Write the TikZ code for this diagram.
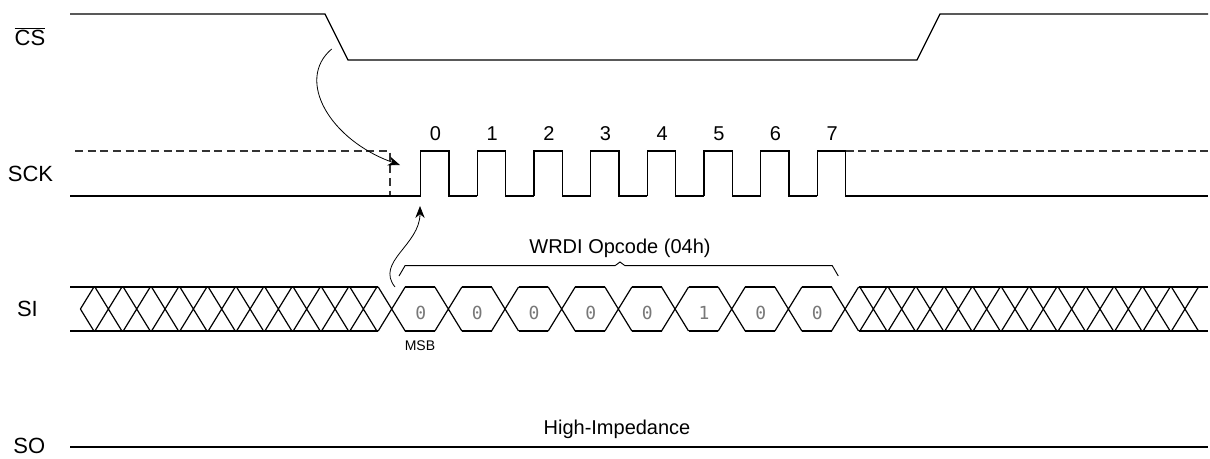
\documentclass[tikz,border=0pt]{standalone}
\usepackage{fontspec}
\setmainfont{Liberation Sans}
\newfontfamily\bitfont{DejaVu Sans Mono}
\usetikzlibrary{arrows.meta}
\definecolor{bitgray}{RGB}{120,120,120}

\begin{document}
\begin{tikzpicture}[x=0.75pt, y=-0.75pt, line width=0.9pt,
        sig/.style={font=\fontsize{15}{18}\selectfont, anchor=base, inner sep=0pt},
        signame/.style={font=\fontsize{16.5}{19}\selectfont, anchor=base, inner sep=0pt},
        bit/.style={font=\bitfont\fontsize{13.5}{16}\selectfont, text=bitgray, anchor=base, inner sep=0pt},
        dontcare/.style={dash pattern=on 6pt off 3.5pt, draw=black!80},
        arr/.style={-{Stealth[length=9pt,width=7pt]}, line width=0.6pt}]
    \useasboundingbox (0,0) rectangle (1210,458);

    % Signal names
    \node[signame] (lcs) at (30,45) {$\overline{\mbox{CS}}$};
    \node[signame] (lsck) at (30.5,181.7) {SCK};
    \node[signame] (lsi) at (27.4,316.7) {SI};
    \node[signame] (lso) at (29.3,453.5) {SO};

    % CS
    \draw (70,14) -- (325,14) -- (348,60) -- (917,60) -- (940,14) -- (1208,14);

    % SCK
    \draw[dontcare] (75,151) -- (390,151) -- (390,196);
    \draw (70,196) -- (420.7,196);
    \foreach \k in {0,...,7} {
        \draw ({420.7+56.67*\k},196) |- ++(28.33,-45) |- ++(28.33,45);
        \node[sig] (p\k) at ({435.5+56.67*\k},140) {\k};
    }
    \draw (845.7,196) -- (1208,196);
    \draw[dontcare] (845.7,151) -- (1208,151);

    % SI, don't care before the opcode
    \draw (70,287) -- (378.2,287) (70,331) -- (378.2,331);
    \draw (80.4,309) -- ++(13.5,-22) (80.4,309) -- ++(13.5,22);
    \foreach \k in {1,...,10}
        \draw ({391.7-28.33*\k-13.5},287) -- ++(27,44) ++(0,-44) -- ++(-27,44);

    % SI, opcode bits
    \foreach \k in {0,...,8}
        \draw ({391.7+56.67*\k-13.5},287) -- ++(27,44) ++(0,-44) -- ++(-27,44);
    \foreach \k in {0,...,7}
        \draw ({405.2+56.67*\k},287) -- ++(29.67,0) ({405.2+56.67*\k},331) -- ++(29.67,0);
    \foreach \v [count=\k from 0] in {0,0,0,0,0,1,0,0}
        \node[bit] (b\k) at ({420.7+56.67*\k},319) {\v};
    \node[font=\fontsize{10.5}{12}\selectfont, anchor=base, inner sep=0pt] (msb) at (420,350) {MSB};

    % SI, don't care after the opcode
    \foreach \k in {1,...,12}
        \draw ({845+28.33*\k-13.5},287) -- ++(27,44) ++(0,-44) -- ++(-27,44);
    \draw (858.5,287) -- (1208,287) (858.5,331) -- (1208,331);

    % Opcode brace
    \draw[line width=0.7pt] (399,276) -- (405,265.7) -- (615,265.7) -- (620,262) -- (625,265.7) -- (832.3,265.7) -- (838.3,276);
    \node[sig] (opc) at (620,253.3) {WRDI Opcode (04h)};

    % SO
    \draw (70,447) -- (1208,447);
    \node[sig] (hiz) at (617,434.5) {High-Impedance};

    % Timing arrows
    \coordinate (csfall) at (331.7,49);
    \coordinate (sckidle) at (400,165);
    \coordinate (msbbit) at (395,287);
    \coordinate (sckrise) at (420,206);
    \draw[arr] (csfall) .. controls (295,80) and (330,140) .. (sckidle);
    \draw[arr] (msbbit) .. controls (375,262) and (420,245) .. (sckrise);
\end{tikzpicture}
\end{document}
